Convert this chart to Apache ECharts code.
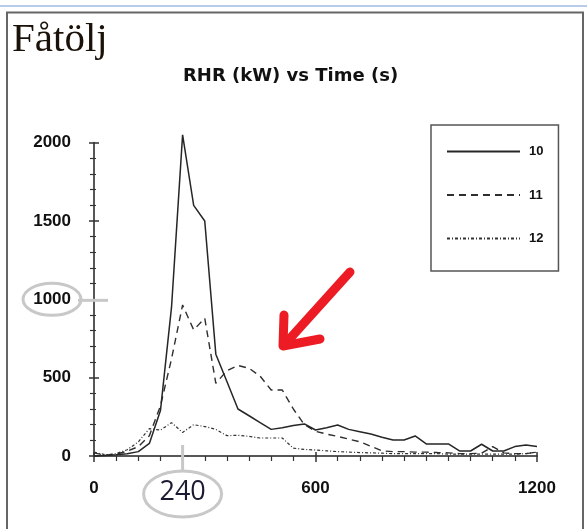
<!DOCTYPE html>
<html>
<head>
<meta charset="utf-8">
<script src="https://cdn.jsdelivr.net/npm/echarts@6/dist/echarts.min.js"></script>
<style>
  html, body { margin: 0; padding: 0; background: #fff; }
  #chart { width: 587px; height: 529px; }
</style>
</head>
<body>
<div id="chart"></div>
<script>
// Rate of heat release (kW) sampled every 30 s
const times = [0, 30, 60, 90, 120, 150, 180, 210, 240, 270, 300, 330, 360, 390, 420, 450, 480, 510, 540, 570,
               600, 630, 660, 690, 720, 750, 780, 810, 840, 870, 900, 930, 960, 990, 1020, 1050, 1080, 1110, 1140, 1170, 1200];
const rhr10 = [0, 3, 8, 15, 28, 80, 290, 950, 2050, 1600, 1500, 650, 475, 300, 257, 213, 170, 180, 195, 205,
               166, 180, 198, 170, 155, 140, 120, 102, 102, 128, 77, 77, 77, 32, 32, 75, 32, 32, 60, 70, 60];
const rhr11 = [20, 5, 12, 30, 60, 130, 320, 620, 964, 805, 879, 464, 545, 578, 560, 510, 421, 421, 300, 200,
               158, 140, 125, 108, 91, 62, 33, 28, 28, 25, 25, 22, 20, 15, 15, 18, 60, 20, 15, 15, 25];
const rhr12 = [25, 8, 15, 40, 90, 175, 165, 213, 150, 200, 188, 170, 130, 132, 125, 115, 115, 115, 50, 42,
               38, 33, 28, 25, 22, 20, 18, 15, 15, 15, 15, 15, 12, 12, 12, 12, 12, 12, 12, 15, 25];
const seriesNames = ['10', '11', '12'];
const xTicks = [0, 600, 1200];
const yTicks = [0, 500, 1000, 1500, 2000];

const labelFont = { fontFamily: 'Liberation Sans, Arial, sans-serif', fontWeight: 'bold', fontSize: 17, color: '#111' };
const axisColor = '#575757';
const tickColor = '#333';

function pairs(values) { return times.map((t, i) => [t, values[i]]); }
function plain(v) { return String(v); }

const lineStyles = [
  { color: '#262626', width: 1.5, type: 'solid' },
  { color: '#2e2e2e', width: 1.4, type: [7, 5] },
  { color: '#333333', width: 1.2, type: [3, 2, 1, 2] }
];
const dataSets = [rhr10, rhr11, rhr12];

const chart = echarts.init(document.getElementById('chart'), null, { renderer: 'canvas' });

const xMin = xTicks[0], xMax = xTicks[xTicks.length - 1], xStep = xTicks[1] - xTicks[0];
const yMin = yTicks[0], yMax = yTicks[yTicks.length - 1], yStep = yTicks[1] - yTicks[0];

const frameGraphics = [
  { type: 'line', id: 'rule', shape: { x1: 0, y1: 6, x2: 587, y2: 6 }, style: { stroke: '#9fbbe3', lineWidth: 1.5 }, silent: true },
  { type: 'rect', id: 'frame', shape: { x: 7, y: 12.5, width: 576, height: 560 }, style: { fill: 'none', stroke: '#666', lineWidth: 2 }, silent: true }
];

chart.setOption({
  animation: false,
  backgroundColor: '#fff',
  title: [
    { text: 'Fåtölj', left: 12, top: 20, padding: 0,
      textStyle: { fontFamily: 'Liberation Serif, Times New Roman, serif', fontWeight: 'normal', fontSize: 41, color: '#1a1208' } },
    { text: 'RHR (kW) vs Time (s)', left: 183, top: 67, padding: 0,
      textStyle: { fontFamily: 'DejaVu Sans, sans-serif', fontWeight: 'bold', fontSize: 18, color: '#111' } }
  ],
  grid: { left: 94, right: 50, top: 142.7, bottom: 73, containLabel: false },
  legend: {
    orient: 'vertical', left: 431, top: 125,
    itemWidth: 73, itemHeight: 14, itemGap: 30.5,
    padding: [20, 15, 26, 15],
    borderColor: '#555', borderWidth: 1.5,
    itemStyle: { opacity: 0 },
    textStyle: { fontFamily: 'Liberation Sans, Arial, sans-serif', fontWeight: 'bold', fontSize: 13, color: '#111', padding: [0, 0, 0, 4] },
    data: seriesNames
  },
  xAxis: [
    { type: 'value', min: xMin, max: xMax, interval: xStep, position: 'bottom',
      axisLine: { show: true, lineStyle: { color: axisColor, width: 2 } },
      axisTick: { show: true, length: 6, lineStyle: { color: tickColor, width: 1.5 } },
      minorTick: { show: true, splitNumber: 10, length: 5, lineStyle: { color: tickColor, width: 1.2 } },
      splitLine: { show: false }, minorSplitLine: { show: false },
      axisLabel: Object.assign({ margin: 24, formatter: plain }, labelFont) },
    { type: 'value', min: xMin, max: xMax, interval: xStep, position: 'bottom',
      axisLine: { show: false },
      axisTick: { show: true, inside: true, length: 4, lineStyle: { color: tickColor, width: 1.5 } },
      minorTick: { show: false }, splitLine: { show: false }, axisLabel: { show: false } }
  ],
  yAxis: [
    { type: 'value', min: yMin, max: yMax, interval: yStep, position: 'left',
      axisLine: { show: true, lineStyle: { color: axisColor, width: 2 } },
      axisTick: { show: true, length: 5, lineStyle: { color: tickColor, width: 1.5 } },
      minorTick: { show: true, splitNumber: 5, length: 4, lineStyle: { color: tickColor, width: 1.2 } },
      splitLine: { show: false }, minorSplitLine: { show: false },
      axisLabel: Object.assign({ margin: 23, formatter: plain }, labelFont) },
    { type: 'value', min: yMin, max: yMax, interval: yStep, position: 'left',
      axisLine: { show: false },
      axisTick: { show: true, inside: true, length: 5, lineStyle: { color: tickColor, width: 1.5 } },
      minorTick: { show: true, splitNumber: 5, length: 2, lineStyle: { color: tickColor, width: 1.2 } },
      splitLine: { show: false }, axisLabel: { show: false } }
  ],
  series: seriesNames.map((name, i) => ({
    name: name, type: 'line', xAxisIndex: 0, yAxisIndex: 0,
    data: pairs(dataSets[i]),
    showSymbol: false, symbol: 'none', clip: false, z: 3 - i,
    itemStyle: { color: lineStyles[i].color },
    lineStyle: lineStyles[i]
  })),
  graphic: frameGraphics
});

// Hand-drawn style highlights placed against the axes
const p240 = chart.convertToPixel({ gridIndex: 0 }, [240, 0]);
const p1000 = chart.convertToPixel({ gridIndex: 0 }, [0, 1000]);
const grey = '#c8c8c8';

chart.setOption({
  graphic: frameGraphics.concat([
    { type: 'ellipse', id: 'ring1000', shape: { cx: p1000[0] - 42, cy: p1000[1], rx: 29, ry: 16 },
      style: { fill: 'none', stroke: grey, lineWidth: 3 }, silent: true, z: 1 },
    { type: 'line', id: 'mark1000', shape: { x1: p1000[0] - 16, y1: p1000[1] + 1, x2: p1000[0] + 14, y2: p1000[1] + 1 },
      style: { stroke: grey, lineWidth: 3 }, silent: true, z: 1 },
    { type: 'line', id: 'mark240', shape: { x1: p240[0], y1: p240[1] - 11, x2: p240[0], y2: p240[1] + 15 },
      style: { stroke: grey, lineWidth: 3 }, silent: true, z: 1 },
    { type: 'ellipse', id: 'ring240', shape: { cx: p240[0], cy: p240[1] + 38, rx: 39, ry: 23 },
      style: { fill: '#fff', stroke: grey, lineWidth: 3 }, silent: true, z: 1 },
    { type: 'text', id: 'label240', x: p240[0], y: p240[1] + 36, z: 2,
      style: { text: '240', fontFamily: 'Open Sans, Noto Sans, sans-serif', fontSize: 27, fill: '#1a1a33', align: 'center', verticalAlign: 'middle' }, silent: true },
    // red pointer
    { type: 'polyline', id: 'arrowShaft', shape: { points: [[350, 272], [285, 344]] },
      style: { stroke: '#ed1c24', lineWidth: 9, lineCap: 'round', fill: 'none' }, silent: true, z: 5 },
    { type: 'polyline', id: 'arrowHead', shape: { points: [[284, 315], [283, 346], [320, 339]] },
      style: { stroke: '#ed1c24', lineWidth: 9, lineCap: 'round', lineJoin: 'round', fill: 'none' }, silent: true, z: 5 }
  ])
});
</script>
</body>
</html>
